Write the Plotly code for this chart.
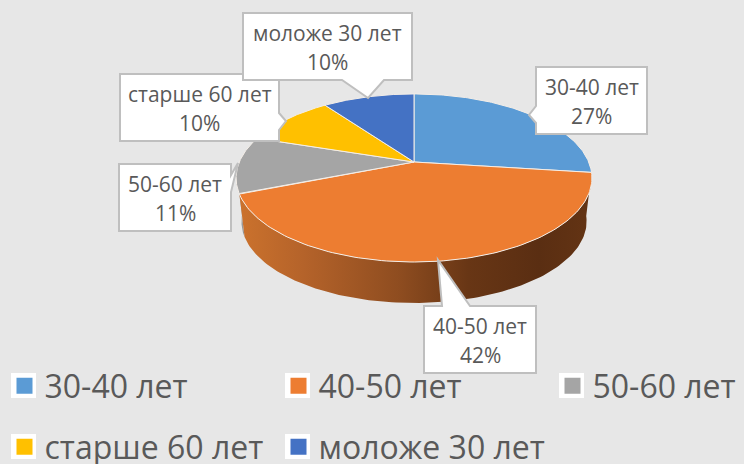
import numpy as np
import plotly.graph_objects as go

categories = ["30-40 лет", "40-50 лет", "50-60 лет", "старше 60 лет", "моложе 30 лет"]
values = [27, 42, 11, 10, 10]
colors = ["#5B9BD5", "#ED7D31", "#A5A5A5", "#FFC000", "#4472C4"]

W, H = 744, 464
FONT = "Open Sans"
TXT = "#595959"
BG = "#E7E7E7"

CX, CY, RX, RY, K = 414.0, 162.0, 174.7, 81.0, 0.19
DEPTH_Y, DEPTH_S = 44.0, 0.97


def project(theta, r=1.0, dy=0.0, s=1.0):
    u, v = r * np.sin(theta), r * np.cos(theta)
    w = 1 + K * v
    return CX + s * RX * u / w, CY + dy - s * RY * v / w


cum = np.concatenate([[0], np.cumsum(values)]) / sum(values) * 2 * np.pi
fig = go.Figure()


def wall(a, b, scale):
    t = np.linspace(a, b, 120)
    x1, y1 = project(t)
    x2, y2 = project(t[::-1], dy=DEPTH_Y, s=DEPTH_S)
    fig.add_trace(go.Scatter(
        x=np.r_[x1, x2], y=np.r_[y1, y2], mode="lines", fill="toself",
        line=dict(width=0), fillgradient=dict(type="horizontal", colorscale=scale),
        hoverinfo="skip", showlegend=False))


# visible side walls: gray sliver then the orange front
wall(cum[2], cum[2] + 0.35, [[0, "#B9B9B9"], [1, "#8E8E8E"]])
wall(cum[1], cum[2], [
    [0.00, "#CB722D"], [0.18, "#B5632A"], [0.45, "#8F4D20"],
    [0.65, "#683615"], [0.85, "#5A2E12"], [1.00, "#643414"]])

for i, name in enumerate(categories):
    t = np.linspace(cum[i], cum[i + 1], 120)
    x, y = project(t)
    fig.add_trace(go.Scatter(
        x=np.r_[CX, x, CX], y=np.r_[CY, y, CY], mode="lines", fill="toself",
        fillcolor=colors[i], line=dict(color="#F4EEE8", width=1),
        name=name, hoverinfo="name", showlegend=False))

# legend entries: row 1 = legend + legend3, row 2 = legend2
legend_of = ["legend", "legend", "legend3", "legend2", "legend2"]
for i, name in enumerate(categories):
    fig.add_trace(go.Scatter(
        x=[None], y=[None], mode="markers", name=name,
        marker=dict(symbol="square", size=16, color=colors[i]),
        legend=legend_of[i]))

callouts = [
    (1, (424, 306, 536, 373), "top", (442, 470), (438, 260)),
    (2, (119, 164, 231, 231), "right", (175, 192), (238, 163)),
    (0, (536, 67, 647, 134), "left", (106, 123), (529, 115)),
    (3, (120, 74, 279, 141), "right", (113, 130), (286, 121)),
    (4, (243, 13, 412, 80), "bottom", (342, 384), (368, 98)),
]
shapes, annos = [], []
for idx, (x0, y0, x1, y1), side, base, tip in callouts:
    p = [(x0, y0)]
    if side == "top":
        p += [(base[0], y0), tip, (base[1], y0)]
    p += [(x1, y0)]
    if side == "right":
        p += [(x1, base[0]), tip, (x1, base[1])]
    p += [(x1, y1)]
    if side == "bottom":
        p += [(base[1], y1), tip, (base[0], y1)]
    p += [(x0, y1)]
    if side == "left":
        p += [(x0, base[1]), tip, (x0, base[0])]
    path = "M" + " L".join(f"{a},{b}" for a, b in p) + " Z"
    shapes.append(dict(type="path", path=path, xref="x", yref="y", layer="above",
                       fillcolor="white", line=dict(color="#BFBFBF", width=2)))
    xc = (x0 + x1) / 2
    for text, yy in ((categories[idx], y0 + 20), (f"{values[idx]}%", y0 + 49)):
        annos.append(dict(x=xc, y=yy, xref="x", yref="y", text=text, showarrow=False,
                          font=dict(family=FONT, size=21, color=TXT),
                          xanchor="center", yanchor="middle"))

# white plates behind the legend swatches
for x0, y0 in ((11, 373), (285, 373), (559, 373), (11, 434), (285, 434)):
    shapes.append(dict(type="rect", x0=x0, x1=x0 + 25, y0=y0, y1=y0 + 25, xref="x", yref="y",
                       layer="above", fillcolor="white", line=dict(width=0)))

legend_common = dict(
    orientation="h", xanchor="left", yanchor="middle",
    bgcolor="rgba(0,0,0,0)",
    font=dict(family=FONT, size=32, color=TXT), entrywidthmode="pixels", entrywidth=229,
    itemwidth=30)

fig.update_layout(
    width=W, height=H, autosize=False,
    margin=dict(l=0, r=0, t=0, b=0, autoexpand=False),
    paper_bgcolor=BG, plot_bgcolor=BG,
    xaxis=dict(range=[0, W], visible=False, fixedrange=True),
    yaxis=dict(range=[H, 0], visible=False, fixedrange=True),
    shapes=shapes, annotations=annos,
    legend=dict(x=4.5 / W, y=1 - 386 / H, **legend_common),
    legend2=dict(x=4.5 / W, y=1 - 447 / H, **legend_common),
    legend3=dict(x=552.5 / W, y=1 - 386 / H, **legend_common),
    showlegend=True,
)
fig.write_html(
    "out.html",
    config=dict(displayModeBar=False),
    post_script="document.documentElement.style.background='#E7E7E7';"
                "document.body.style.margin='0';document.body.style.overflow='hidden';",
)
